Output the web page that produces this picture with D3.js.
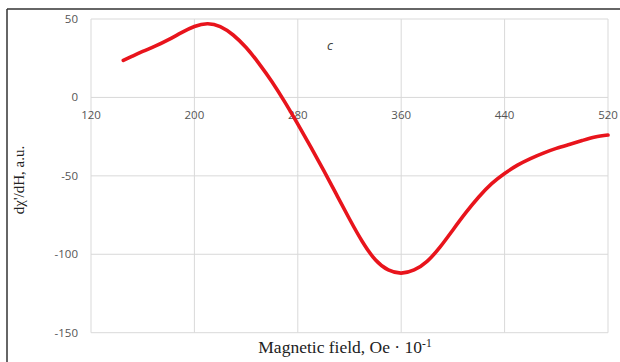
<!DOCTYPE html>
<html>
<head>
<meta charset="utf-8">
<script src="https://cdn.jsdelivr.net/npm/d3@7"></script>
<style>
  html, body { margin: 0; padding: 0; background: #fff; }
  svg { display: block; }
</style>
</head>
<body>
<svg id="chart" width="620" height="362"></svg>
<script>
// ---- data ----
const xTicks = [120, 200, 280, 360, 440, 520];
const yTicks = [50, 0, -50, -100, -150];
const field = [145, 152, 160, 170, 180, 190, 200, 210, 220, 230, 240, 250, 260, 270, 280, 290, 300, 310, 320, 330, 340, 350, 360, 370, 380, 390, 400, 410, 420, 430, 440, 450, 460, 470, 480, 490, 500, 510, 520];
const signal = [23.6, 26.3, 29.3, 32.8, 36.8, 41.3, 45.2, 47.0, 45.2, 39.8, 31.8, 21.6, 10.0, -3.0, -17.0, -31.5, -46.5, -62.0, -77.5, -92.0, -103.5, -110.0, -112.0, -110.0, -104.5, -95.5, -84.5, -73.5, -63.5, -55.0, -48.5, -43.2, -39.0, -35.5, -32.5, -30.0, -27.5, -25.2, -24.0];
const xTitle = "Magnetic field, Oe · 10";
const yTitle = "dχ'/dH, a.u.";
const panelLabel = "c";

// ---- layout ----
const svg = d3.select("#chart");
const x = d3.scaleLinear().domain([120, 520]).range([91, 608]);
const y = d3.scaleLinear().domain([-150, 50]).range([332.7, 19]);

// frame
svg.append("line").attr("x1", 7).attr("x2", 7).attr("y1", 9).attr("y2", 362)
  .attr("stroke", "#333").attr("stroke-width", 1.5);
svg.append("line").attr("x1", 7).attr("x2", 620).attr("y1", 9).attr("y2", 9)
  .attr("stroke", "#333").attr("stroke-width", 1.5);

// gridlines
svg.append("g").selectAll("line").data(xTicks).join("line")
  .attr("x1", d => x(d)).attr("x2", d => x(d))
  .attr("y1", y(50)).attr("y2", y(-150))
  .attr("stroke", "#d9d9d9").attr("stroke-width", 1);
svg.append("g").selectAll("line").data(yTicks).join("line")
  .attr("x1", x(120)).attr("x2", x(520))
  .attr("y1", d => y(d)).attr("y2", d => y(d))
  .attr("stroke", "#d9d9d9").attr("stroke-width", 1);

// tick labels
svg.append("g").selectAll("text").data(xTicks).join("text")
  .attr("x", d => x(d)).attr("y", y(0) + 22)
  .attr("text-anchor", "middle")
  .attr("font-family", "'Open Sans', sans-serif").attr("font-size", 11.5)
  .attr("fill", "#555")
  .text(d => d);
svg.append("g").selectAll("text").data(yTicks).join("text")
  .attr("x", 78).attr("y", d => y(d) + 4)
  .attr("text-anchor", "end")
  .attr("font-family", "'Open Sans', sans-serif").attr("font-size", 11.5)
  .attr("fill", "#555")
  .text(d => d);

// curve
const pts = field.map((f, i) => [f, signal[i]]);
svg.append("path").datum(pts)
  .attr("d", d3.line().x(d => x(d[0])).y(d => y(d[1])).curve(d3.curveNatural))
  .attr("fill", "none").attr("stroke", "#e8141c").attr("stroke-width", 3.6)
  .attr("stroke-linejoin", "round").attr("stroke-linecap", "round");

// panel label
svg.append("text").attr("x", 330).attr("y", 50)
  .attr("font-family", "'Open Sans', sans-serif").attr("font-style", "italic")
  .attr("font-size", 13).attr("fill", "#404040").attr("text-anchor", "middle")
  .text(panelLabel);

// axis titles
const xt = svg.append("text").attr("x", 345).attr("y", 353)
  .attr("text-anchor", "middle")
  .attr("font-family", "'Liberation Serif', serif").attr("font-size", 17.5)
  .attr("fill", "#222");
xt.append("tspan").text(xTitle);
xt.append("tspan").attr("dy", -6).attr("font-size", 11.5).text("-1");

svg.append("text")
  .attr("transform", "translate(24,180) rotate(-90)")
  .attr("text-anchor", "middle")
  .attr("font-family", "'Liberation Serif', serif").attr("font-size", 15)
  .attr("fill", "#222")
  .text(yTitle);
</script>
</body>
</html>
